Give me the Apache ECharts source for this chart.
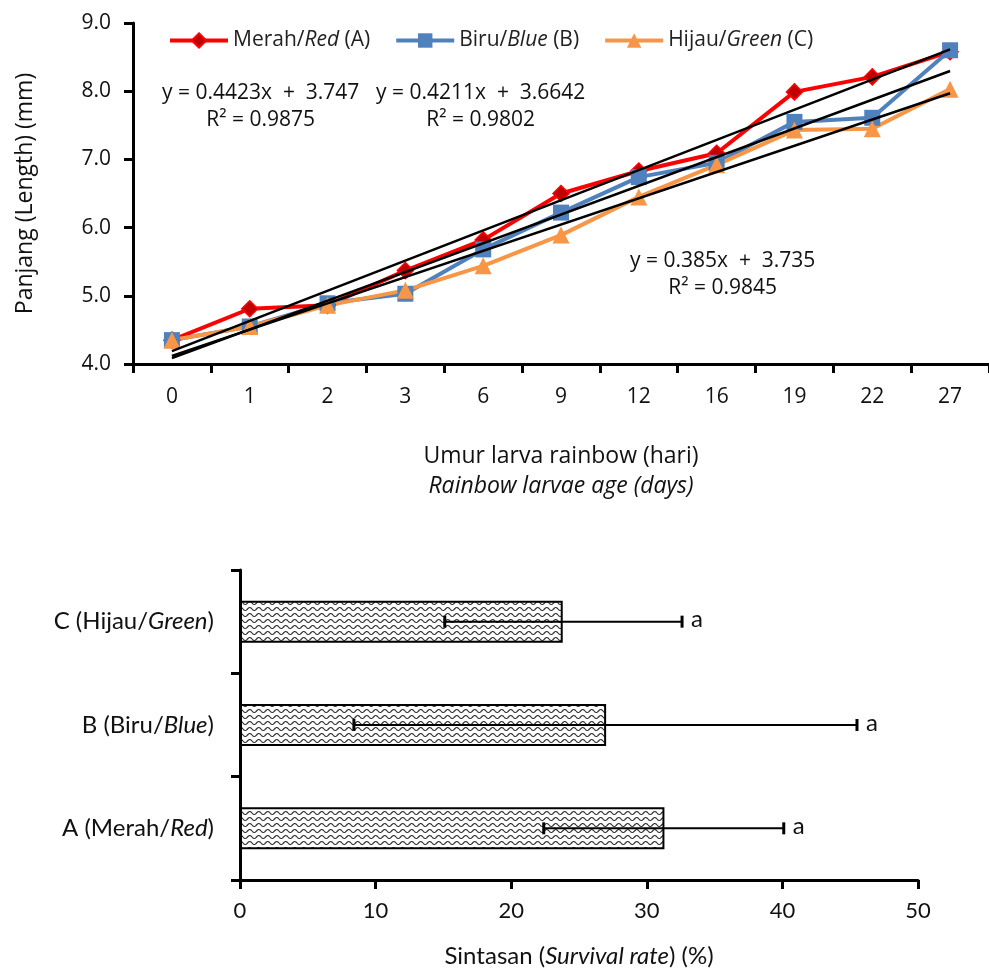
<!DOCTYPE html>
<html>
<head>
<meta charset="utf-8">
<script src="https://cdn.jsdelivr.net/npm/echarts@6/dist/echarts.min.js"></script>
<style>
html,body{margin:0;padding:0;background:#fff;}
#c{width:989px;height:975px;}
</style>
</head>
<body>
<div id="c"></div>
<script>
// ---------- DATA ----------
const ageDays = ['0','1','2','3','6','9','12','16','19','22','27'];
const redA   = [4.35, 4.81, 4.86, 5.37, 5.82, 6.50, 6.83, 7.09, 7.99, 8.21, 8.58];
const blueB  = [4.35, 4.55, 4.89, 5.03, 5.68, 6.22, 6.74, 6.95, 7.55, 7.61, 8.60];
const greenC = [4.35, 4.55, 4.86, 5.08, 5.44, 5.89, 6.45, 6.92, 7.43, 7.45, 8.03];
const seriesNames = ['Merah/Red (A)', 'Biru/Blue (B)', 'Hijau/Green (C)'];
// Excel trendline coefficients (x = point index 1..11)
const trendSlope = [0.4423, 0.4211, 0.385];
const trendIntercept = [3.747, 3.6642, 3.735];
const equationTexts = [
  'y = 0.4423x  +  3.747\nR² = 0.9875',
  'y = 0.4211x  +  3.6642\nR² = 0.9802',
  'y = 0.385x  +  3.735\nR² = 0.9845'
];
const yTicks = [4, 5, 6, 7, 8, 9];

const treatments = ['A (Merah/Red)', 'B (Biru/Blue)', 'C (Hijau/Green)'];
const survival   = [31.3, 27.0, 23.8];
const survLow    = [22.4, 8.4, 15.1];
const survHigh   = [40.1, 45.5, 32.6];
const survLetter = ['a', 'a', 'a'];
const xTicks2 = [0, 10, 20, 30, 40, 50];

// ---------- STYLE ----------
const F = '"Open Sans", Lato, sans-serif';
const FN = 'Lato, sans-serif';

function makePattern(){
  const w = 9, h = 6;
  const cv = document.createElement('canvas');
  cv.width = w; cv.height = h;
  const g = cv.getContext('2d');
  g.fillStyle = '#ffffff'; g.fillRect(0,0,w,h);
  g.strokeStyle = '#333'; g.lineWidth = 1.2;
  g.beginPath();
  for (let x = 0; x <= w; x += 0.5){
    const y = 3 + 1.5*Math.sin(2*Math.PI*x/w);
    if (x===0) g.moveTo(x,y); else g.lineTo(x,y);
  }
  g.stroke();
  return cv;
}

const legendRich = {
  n:{fontFamily:F,fontSize:21,color:'#222'},
  i:{fontFamily:F,fontSize:21,color:'#222',fontStyle:'italic'}
};
function legendFmt(name){
  const m = name.match(/^(.*\/)(\w+)( \(.\))$/);
  return '{n|'+m[1]+'}{i|'+m[2]+'}{n|'+m[3]+'}';
}

const trendSeries = trendSlope.map((s,k)=>({
  type:'line', xAxisIndex:0, yAxisIndex:0, silent:true, symbol:'none', z:5,
  lineStyle:{color:'#000', width:2.5},
  data:[[ageDays[0], s*1+trendIntercept[k]], [ageDays[ageDays.length-1], s*ageDays.length+trendIntercept[k]]]
}));

const chart = echarts.init(document.getElementById('c'));
chart.setOption({
  backgroundColor:'#fff',
  animation:false,
  legend:{
    data:seriesNames, left:163, top:25, itemWidth:58, itemHeight:18, itemGap:24,
    lineStyle:{width:4},
    formatter:legendFmt, textStyle:{rich:legendRich, fontSize:21}
  },
  grid:[
    {left:133, top:23, width:863, height:341},
    {left:240, top:570, width:678, height:310}
  ],
  xAxis:[
    {type:'category', gridIndex:0, data:ageDays, boundaryGap:true,
     axisLine:{lineStyle:{color:'#000', width:3}},
     axisTick:{show:true, length:9, lineStyle:{color:'#000', width:3}},
     axisLabel:{color:'#111', fontFamily:F, fontSize:21, margin:23},
     name:'{n|Umur larva rainbow (hari)}\n{i|Rainbow larvae age (days)}',
     nameLocation:'middle', nameGap:77,
     nameTextStyle:{rich:{
       n:{fontFamily:F,fontSize:23,color:'#111',lineHeight:30},
       i:{fontFamily:F,fontSize:23,color:'#111',fontStyle:'italic',lineHeight:30}}}
    },
    {type:'value', gridIndex:1, min:0, max:50, interval:10,
     splitLine:{show:false},
     axisLine:{show:true, lineStyle:{color:'#000', width:3}},
     axisTick:{show:true, length:9, lineStyle:{color:'#000', width:3}},
     axisLabel:{color:'#111', fontFamily:FN, fontSize:22, margin:20},
     name:'{n|Sintasan (}{i|Survival rate}{n|) (%)}',
     nameLocation:'middle', nameGap:64,
     nameTextStyle:{rich:{
       n:{fontFamily:FN,fontSize:24,color:'#111'},
       i:{fontFamily:FN,fontSize:24,color:'#111',fontStyle:'italic'}}}
    }
  ],
  yAxis:[
    {type:'value', gridIndex:0, min:4, max:9, interval:1,
     splitLine:{show:false},
     axisLine:{show:true, lineStyle:{color:'#000', width:3}},
     axisTick:{show:true, length:9, lineStyle:{color:'#000', width:3}},
     axisLabel:{color:'#111', fontFamily:F, fontSize:21, margin:22, formatter:v=>v.toFixed(1)},
     name:'Panjang (Length) (mm)', nameLocation:'middle', nameGap:96,
     nameTextStyle:{fontFamily:F, fontSize:23, color:'#111'}
    },
    {type:'category', gridIndex:1, data:treatments,
     axisLine:{lineStyle:{color:'#000', width:3}},
     axisTick:{show:true, length:9, lineStyle:{color:'#000', width:3}},
     axisLabel:{margin:26, formatter:v=>{
        const m = v.match(/^(.*\/)(\w+)(\))$/);
        return '{n|'+m[1]+'}{i|'+m[2]+'}{n|'+m[3]+'}';
      }, rich:{
        n:{fontFamily:FN,fontSize:24,color:'#111'},
        i:{fontFamily:FN,fontSize:24,color:'#111',fontStyle:'italic'}}}
    }
  ],
  graphic:[
    {type:'text', left:162, top:80, style:{text:equationTexts[0], font:'21px '+F, fill:'#111', lineHeight:27, textAlign:'center'}},
    {type:'text', left:376, top:80, style:{text:equationTexts[1], font:'21px '+F, fill:'#111', lineHeight:27, textAlign:'center'}},
    {type:'text', left:630, top:248, style:{text:equationTexts[2], font:'21px '+F, fill:'#111', lineHeight:27, textAlign:'center'}}
  ],
  series:[
    {name:seriesNames[0], type:'line', xAxisIndex:0, yAxisIndex:0, data:redA,
     symbol:'diamond', symbolSize:16, lineStyle:{color:'#ff0000', width:4},
     itemStyle:{color:'#c00000', borderColor:'#ff0000', borderWidth:1.5}, color:'#ff0000'},
    {name:seriesNames[1], type:'line', xAxisIndex:0, yAxisIndex:0, data:blueB,
     symbol:'rect', symbolSize:16, lineStyle:{color:'#4f81bd', width:4},
     itemStyle:{color:'#4f81bd'}, color:'#4f81bd'},
    {name:seriesNames[2], type:'line', xAxisIndex:0, yAxisIndex:0, data:greenC,
     symbol:'triangle', symbolSize:17, lineStyle:{color:'#f79646', width:4},
     itemStyle:{color:'#f79646'}, color:'#f79646'},
    ...trendSeries,
    {type:'bar', xAxisIndex:1, yAxisIndex:1, data:survival, barWidth:42,
     itemStyle:{color:{image:makePattern(), repeat:'repeat'}, borderColor:'#000', borderWidth:2}},
    {type:'custom', xAxisIndex:1, yAxisIndex:1, z:10,
     encode:{x:[1,2], y:0},
     data:treatments.map((t,i)=>[i, survLow[i], survHigh[i]]),
     renderItem:(params, api)=>{
       const cat = api.value(0);
       const lo = api.coord([api.value(1), cat]);
       const hi = api.coord([api.value(2), cat]);
       const letter = survLetter[params.dataIndex];
       const h = 6;
       return {type:'group', children:[
         {type:'line', shape:{x1:lo[0],y1:lo[1],x2:hi[0],y2:hi[1]}, style:{stroke:'#000', lineWidth:2}},
         {type:'line', shape:{x1:lo[0],y1:lo[1]-h,x2:lo[0],y2:lo[1]+h}, style:{stroke:'#000', lineWidth:3}},
         {type:'line', shape:{x1:hi[0],y1:hi[1]-h,x2:hi[0],y2:hi[1]+h}, style:{stroke:'#000', lineWidth:3}},
         {type:'text', style:{text:letter, x:hi[0]+9, y:hi[1]-2, verticalAlign:'middle', font:'24px '+FN, fill:'#111'}}
       ]};
     }
    }
  ]
});
</script>
</body>
</html>
